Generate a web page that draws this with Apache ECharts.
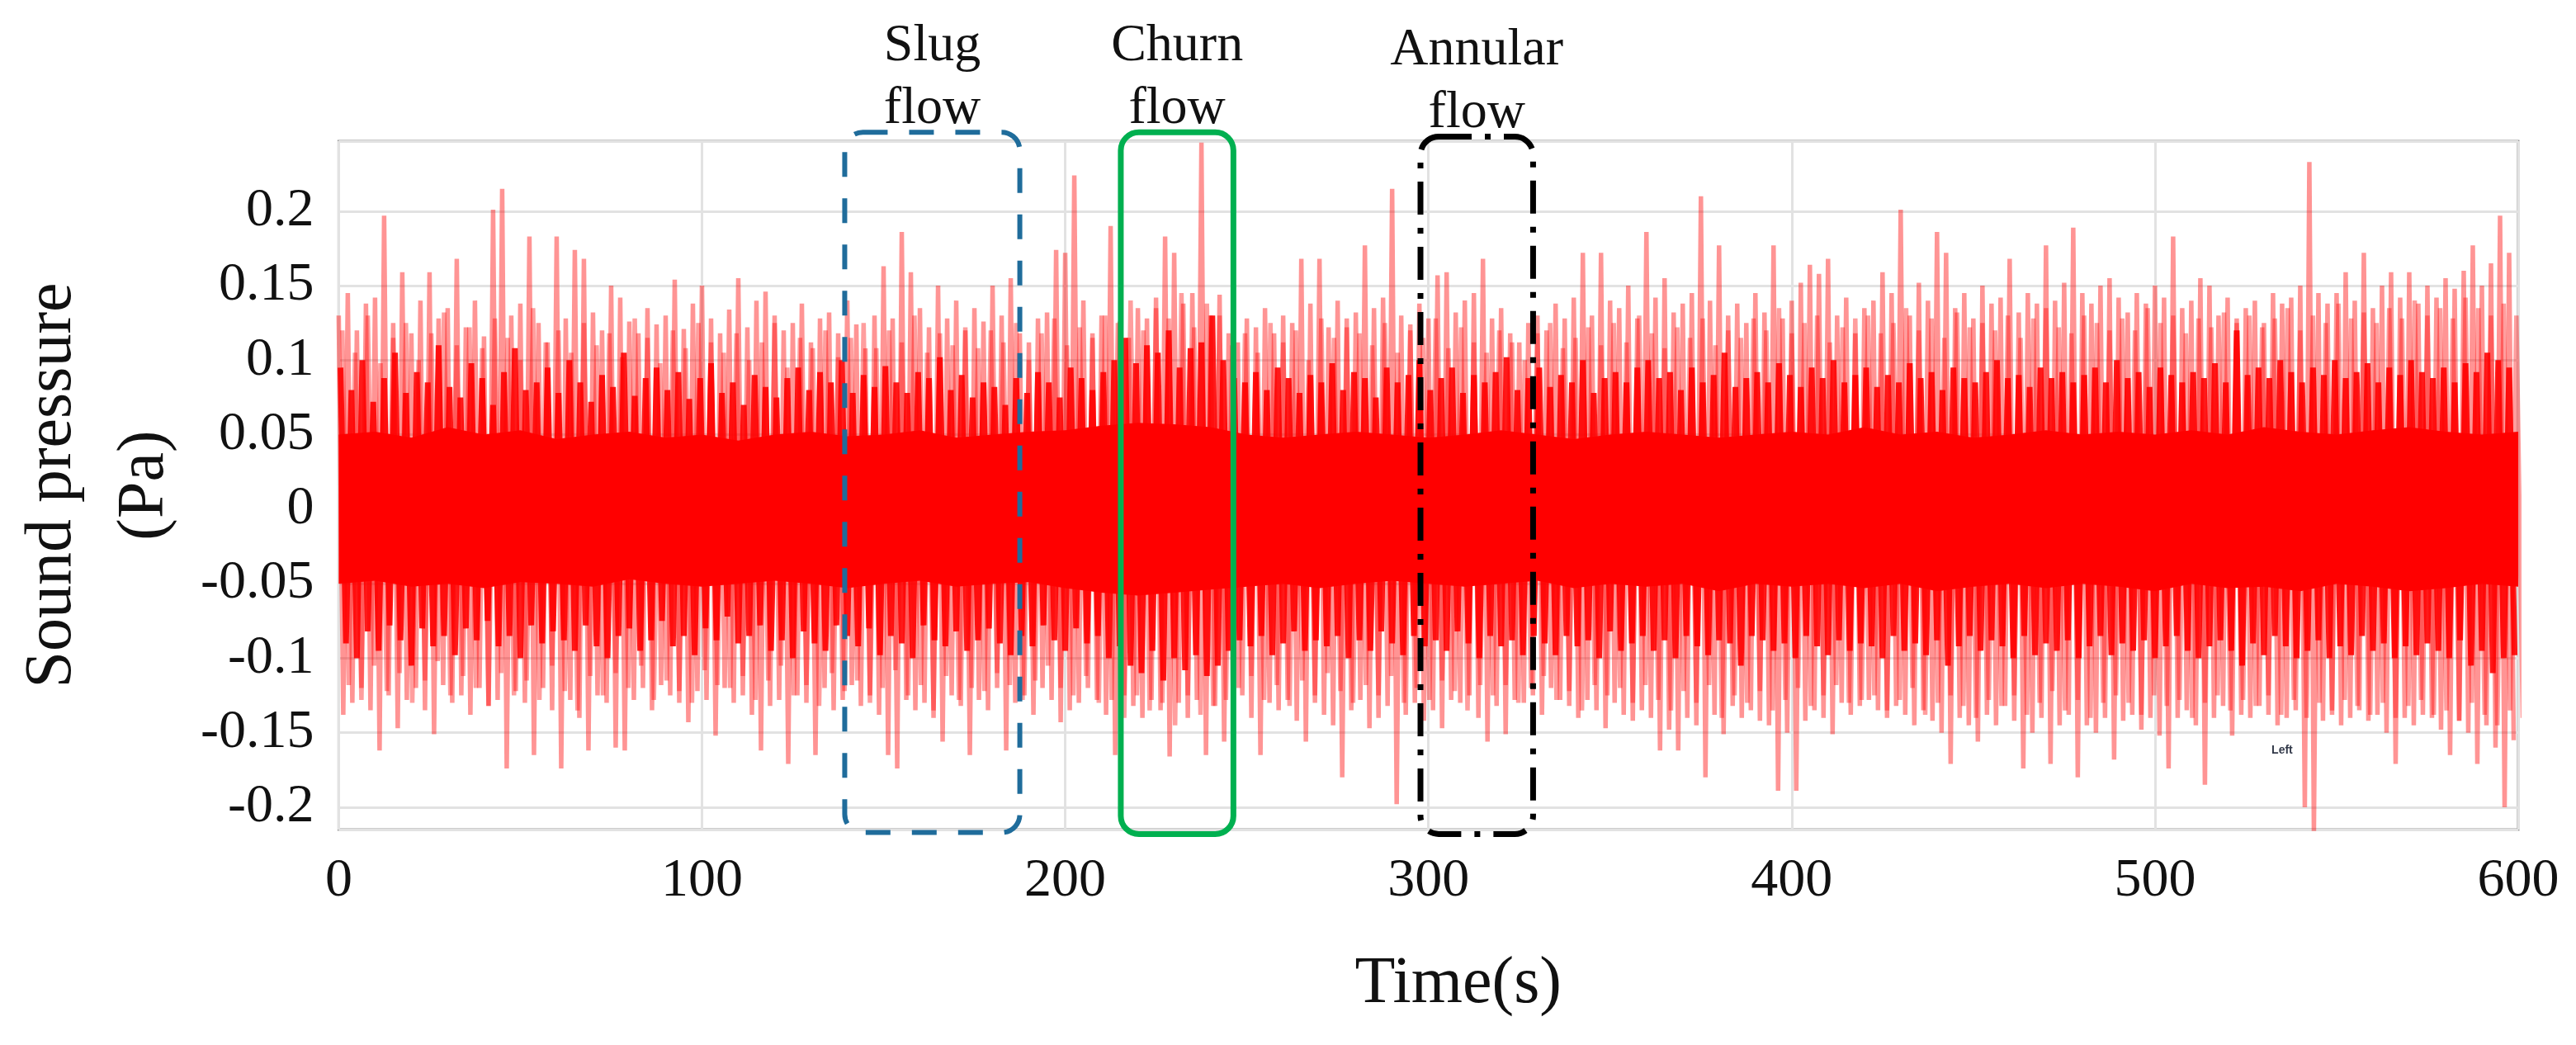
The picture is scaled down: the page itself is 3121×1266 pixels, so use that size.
<!DOCTYPE html>
<html>
<head>
<meta charset="utf-8">
<script src="https://cdn.jsdelivr.net/npm/echarts@6/dist/echarts.min.js"></script>
<style>
  html, body { margin: 0; padding: 0; background: #fff; }
  #main { width: 3121px; height: 1266px; }
</style>
</head>
<body>
<div id="main"></div>
<script>
// peak values, one pair per 2.5 s bin (up at t, down at t + 1.25)
var outerUp = [
  0.13, 0.145, 0.12, 0.138, 0.142, 0.197, 0.125, 0.159, 0.118, 0.14,
  0.159, 0.128, 0.135, 0.168, 0.122, 0.14, 0.116, 0.201, 0.215, 0.13,
  0.138, 0.183, 0.125, 0.112, 0.183, 0.128, 0.174, 0.168, 0.132, 0.12,
  0.15, 0.142, 0.126, 0.118, 0.135, 0.124, 0.13, 0.154, 0.121, 0.138,
  0.15, 0.128, 0.118, 0.134, 0.155, 0.122, 0.14, 0.146, 0.13, 0.12,
  0.125, 0.138, 0.112, 0.128, 0.132, 0.118, 0.14, 0.124, 0.108, 0.13,
  0.163, 0.128, 0.186, 0.159, 0.135, 0.122, 0.15, 0.128, 0.14, 0.12,
  0.135, 0.126, 0.15, 0.13, 0.155, 0.118, 0.112, 0.128, 0.132, 0.174,
  0.172, 0.224, 0.14, 0.118, 0.13, 0.19, 0.126, 0.115, 0.135, 0.128,
  0.142, 0.183, 0.172, 0.138, 0.145, 0.246, 0.13, 0.144, 0.118, 0.112,
  0.128, 0.122, 0.135, 0.118, 0.13, 0.125, 0.168, 0.138, 0.168, 0.122,
  0.14, 0.128, 0.132, 0.177, 0.135, 0.142, 0.215, 0.13, 0.124, 0.138,
  0.128, 0.157, 0.159, 0.132, 0.14, 0.145, 0.168, 0.128, 0.135, 0.118,
  0.112, 0.125, 0.13, 0.12, 0.138, 0.128, 0.142, 0.172, 0.13, 0.172,
  0.14, 0.135, 0.15, 0.128, 0.186, 0.142, 0.155, 0.132, 0.138, 0.145,
  0.21, 0.14, 0.177, 0.13, 0.138, 0.125, 0.145, 0.132, 0.177, 0.128,
  0.14, 0.152, 0.164, 0.158, 0.168, 0.13, 0.142, 0.118, 0.135, 0.14,
  0.159, 0.145, 0.201, 0.13, 0.152, 0.14, 0.186, 0.172, 0.135, 0.145,
  0.128, 0.15, 0.138, 0.142, 0.168, 0.132, 0.145, 0.138, 0.177, 0.14,
  0.152, 0.189, 0.145, 0.138, 0.15, 0.155, 0.142, 0.132, 0.145, 0.138,
  0.15, 0.142, 0.183, 0.135, 0.14, 0.155, 0.15, 0.13, 0.142, 0.128,
  0.135, 0.14, 0.125, 0.145, 0.138, 0.142, 0.15, 0.233, 0.145, 0.138,
  0.145, 0.159, 0.14, 0.172, 0.135, 0.15, 0.159, 0.142, 0.159, 0.138,
  0.15, 0.142, 0.155, 0.148, 0.16, 0.177, 0.15, 0.165, 0.197, 0.172
];
var outerDn = [
  -0.138, -0.13, -0.12, -0.135, -0.162, -0.125, -0.147, -0.128, -0.12, -0.135,
  -0.151, -0.118, -0.13, -0.125, -0.138, -0.12, -0.132, -0.128, -0.174, -0.122,
  -0.13, -0.165, -0.12, -0.135, -0.174, -0.128, -0.14, -0.162, -0.125, -0.13,
  -0.16, -0.162, -0.128, -0.12, -0.135, -0.118, -0.125, -0.13, -0.143, -0.122,
  -0.128, -0.152, -0.12, -0.13, -0.125, -0.138, -0.162, -0.132, -0.128, -0.171,
  -0.125, -0.13, -0.165, -0.12, -0.135, -0.128, -0.118, -0.132, -0.125, -0.138,
  -0.165, -0.174, -0.128, -0.135, -0.13, -0.14, -0.156, -0.125, -0.132, -0.165,
  -0.128, -0.135, -0.12, -0.162, -0.13, -0.125, -0.138, -0.12, -0.128, -0.143,
  -0.135, -0.13, -0.12, -0.128, -0.138, -0.165, -0.125, -0.132, -0.14, -0.128,
  -0.135, -0.166, -0.13, -0.14, -0.128, -0.165, -0.132, -0.156, -0.138, -0.125,
  -0.14, -0.165, -0.13, -0.135, -0.128, -0.142, -0.156, -0.13, -0.138, -0.145,
  -0.18, -0.135, -0.128, -0.147, -0.14, -0.132, -0.198, -0.138, -0.13, -0.142,
  -0.135, -0.147, -0.128, -0.13, -0.125, -0.14, -0.156, -0.132, -0.151, -0.128,
  -0.13, -0.125, -0.138, -0.12, -0.128, -0.132, -0.14, -0.128, -0.135, -0.147,
  -0.13, -0.138, -0.142, -0.135, -0.14, -0.162, -0.148, -0.162, -0.14, -0.145,
  -0.18, -0.138, -0.151, -0.132, -0.14, -0.135, -0.142, -0.145, -0.189, -0.15,
  -0.189, -0.142, -0.135, -0.14, -0.151, -0.13, -0.138, -0.132, -0.128, -0.135,
  -0.14, -0.132, -0.138, -0.145, -0.135, -0.142, -0.15, -0.171, -0.14, -0.145,
  -0.156, -0.138, -0.145, -0.132, -0.142, -0.174, -0.15, -0.14, -0.171, -0.145,
  -0.138, -0.18, -0.145, -0.15, -0.14, -0.168, -0.142, -0.138, -0.148, -0.14,
  -0.152, -0.174, -0.14, -0.135, -0.145, -0.185, -0.14, -0.132, -0.152, -0.138,
  -0.14, -0.132, -0.138, -0.145, -0.14, -0.135, -0.2, -0.216, -0.142, -0.138,
  -0.145, -0.14, -0.135, -0.142, -0.138, -0.15, -0.171, -0.14, -0.145, -0.138,
  -0.14, -0.148, -0.165, -0.142, -0.15, -0.171, -0.145, -0.16, -0.2, -0.155
];

// second set of light strokes, one pair per 3.5 s bin (starting at 1 s)
var outer2Up = [
  0.12, 0.105, 0.13, 0.098, 0.115, 0.125, 0.1, 0.118, 0.132, 0.11,
  0.122, 0.108, 0.128, 0.115, 0.1, 0.135, 0.112, 0.12, 0.105, 0.125,
  0.11, 0.118, 0.102, 0.128, 0.115, 0.098, 0.12, 0.108, 0.125, 0.112,
  0.105, 0.118, 0.1, 0.112, 0.125, 0.095, 0.115, 0.108, 0.12, 0.102,
  0.115, 0.125, 0.108, 0.12, 0.112, 0.13, 0.105, 0.118, 0.11, 0.122,
  0.108, 0.12, 0.112, 0.125, 0.1, 0.118, 0.128, 0.11, 0.122, 0.115,
  0.13, 0.125, 0.14, 0.12, 0.135, 0.128, 0.145, 0.122, 0.138, 0.13,
  0.11, 0.118, 0.105, 0.125, 0.112, 0.12, 0.1, 0.128, 0.115, 0.122,
  0.118, 0.11, 0.125, 0.105, 0.12, 0.115, 0.128, 0.108, 0.122, 0.112,
  0.105, 0.12, 0.112, 0.1, 0.118, 0.125, 0.108, 0.115, 0.122, 0.11,
  0.125, 0.112, 0.13, 0.118, 0.108, 0.122, 0.115, 0.128, 0.11, 0.12,
  0.115, 0.128, 0.12, 0.135, 0.118, 0.125, 0.13, 0.112, 0.122, 0.128,
  0.13, 0.118, 0.125, 0.135, 0.12, 0.128, 0.115, 0.132, 0.122, 0.125,
  0.12, 0.13, 0.115, 0.128, 0.135, 0.122, 0.118, 0.13, 0.125, 0.12,
  0.128, 0.12, 0.135, 0.125, 0.13, 0.118, 0.128, 0.122, 0.132, 0.125,
  0.13, 0.122, 0.128, 0.135, 0.12, 0.13, 0.125, 0.138, 0.128, 0.132,
  0.125, 0.135, 0.128, 0.14, 0.13, 0.135, 0.128, 0.142, 0.135, 0.13, 0.138, 0.13
];
var outer2Dn = [
  -0.118, -0.128, -0.105, -0.122, -0.11, -0.13, -0.115, -0.102, -0.125, -0.112,
  -0.12, -0.132, -0.11, -0.125, -0.115, -0.128, -0.105, -0.122, -0.135, -0.112,
  -0.125, -0.11, -0.12, -0.105, -0.128, -0.115, -0.122, -0.13, -0.108, -0.118,
  -0.12, -0.112, -0.128, -0.115, -0.105, -0.125, -0.118, -0.132, -0.11, -0.122,
  -0.115, -0.13, -0.12, -0.108, -0.125, -0.118, -0.135, -0.112, -0.128, -0.12,
  -0.122, -0.11, -0.118, -0.128, -0.115, -0.105, -0.12, -0.125, -0.112, -0.13,
  -0.128, -0.14, -0.125, -0.135, -0.13, -0.145, -0.125, -0.138, -0.132, -0.128,
  -0.12, -0.112, -0.128, -0.118, -0.132, -0.115, -0.125, -0.11, -0.122, -0.13,
  -0.118, -0.125, -0.112, -0.13, -0.12, -0.128, -0.115, -0.122, -0.135, -0.118,
  -0.125, -0.118, -0.13, -0.12, -0.112, -0.128, -0.122, -0.135, -0.118, -0.125,
  -0.12, -0.13, -0.118, -0.128, -0.135, -0.122, -0.13, -0.118, -0.14, -0.125,
  -0.13, -0.122, -0.135, -0.128, -0.12, -0.132, -0.125, -0.118, -0.13, -0.128,
  -0.125, -0.135, -0.128, -0.12, -0.138, -0.13, -0.125, -0.132, -0.14, -0.128,
  -0.132, -0.125, -0.138, -0.13, -0.122, -0.135, -0.128, -0.14, -0.13, -0.125,
  -0.13, -0.138, -0.125, -0.132, -0.128, -0.14, -0.13, -0.125, -0.135, -0.128,
  -0.132, -0.125, -0.138, -0.128, -0.14, -0.13, -0.135, -0.128, -0.132, -0.138,
  -0.13, -0.14, -0.132, -0.128, -0.138, -0.135, -0.142, -0.13, -0.138, -0.145, -0.135, -0.14
];

// darker middle strokes, one pair per 3 s bin
var midUp = [
  0.095, 0.08, 0.1, 0.072, 0.088, 0.105, 0.078, 0.092, 0.085, 0.11,
  0.082, 0.075, 0.098, 0.088, 0.07, 0.092, 0.108, 0.08, 0.085, 0.095,
  0.078, 0.1, 0.085, 0.072, 0.09, 0.082, 0.105, 0.076, 0.088, 0.095,
  0.08, 0.092, 0.074, 0.088, 0.098, 0.078, 0.085, 0.07, 0.09, 0.082,
  0.075, 0.088, 0.095, 0.08, 0.092, 0.085, 0.1, 0.078, 0.09, 0.082,
  0.096, 0.085, 0.078, 0.092, 0.088, 0.102, 0.08, 0.09, 0.075, 0.085,
  0.082, 0.07, 0.088, 0.078, 0.092, 0.085, 0.075, 0.095, 0.088, 0.08,
  0.092, 0.1, 0.115, 0.098, 0.11, 0.105, 0.12, 0.095, 0.108, 0.112,
  0.13, 0.1, 0.088, 0.085, 0.092, 0.08, 0.095, 0.088, 0.078, 0.09,
  0.085, 0.098, 0.08, 0.092, 0.088, 0.075, 0.095, 0.085, 0.09, 0.1,
  0.08, 0.088, 0.095, 0.078, 0.09, 0.085, 0.092, 0.102, 0.08, 0.088,
  0.095, 0.082, 0.09, 0.085, 0.1, 0.078, 0.088, 0.092, 0.085, 0.095,
  0.1, 0.088, 0.092, 0.08, 0.095, 0.085, 0.09, 0.105, 0.082, 0.088,
  0.092, 0.085, 0.098, 0.09, 0.082, 0.095, 0.088, 0.1, 0.085, 0.09,
  0.095, 0.082, 0.09, 0.085, 0.098, 0.088, 0.092, 0.08, 0.095, 0.088,
  0.085, 0.092, 0.1, 0.088, 0.09, 0.082, 0.095, 0.088, 0.092, 0.085,
  0.09, 0.095, 0.085, 0.1, 0.088, 0.092, 0.082, 0.095, 0.09, 0.085,
  0.092, 0.088, 0.098, 0.085, 0.12, 0.09, 0.095, 0.088, 0.1, 0.092,
  0.085, 0.095, 0.09, 0.1, 0.088, 0.092, 0.098, 0.085, 0.095, 0.09,
  0.1, 0.092, 0.088, 0.095, 0.085, 0.098, 0.092, 0.105, 0.1, 0.095
];
var midDn = [
  -0.09, -0.1, -0.082, -0.095, -0.078, -0.088, -0.105, -0.08, -0.092, -0.085,
  -0.098, -0.08, -0.088, -0.075, -0.092, -0.085, -0.1, -0.078, -0.09, -0.082,
  -0.088, -0.095, -0.078, -0.092, -0.1, -0.085, -0.08, -0.095, -0.088, -0.075,
  -0.092, -0.085, -0.098, -0.08, -0.088, -0.072, -0.09, -0.085, -0.078, -0.095,
  -0.088, -0.1, -0.082, -0.09, -0.095, -0.078, -0.085, -0.092, -0.08, -0.098,
  -0.085, -0.09, -0.1, -0.078, -0.088, -0.092, -0.082, -0.095, -0.088, -0.08,
  -0.09, -0.098, -0.085, -0.092, -0.078, -0.088, -0.095, -0.08, -0.09, -0.085,
  -0.1, -0.092, -0.105, -0.11, -0.095, -0.115, -0.1, -0.108, -0.098, -0.112,
  -0.105, -0.095, -0.088, -0.092, -0.085, -0.098, -0.09, -0.082, -0.095, -0.088,
  -0.092, -0.085, -0.1, -0.088, -0.095, -0.082, -0.09, -0.098, -0.085, -0.092,
  -0.088, -0.095, -0.082, -0.09, -0.1, -0.085, -0.092, -0.088, -0.098, -0.085,
  -0.09, -0.098, -0.085, -0.092, -0.088, -0.1, -0.082, -0.095, -0.09, -0.085,
  -0.095, -0.088, -0.1, -0.085, -0.092, -0.098, -0.088, -0.09, -0.105, -0.085,
  -0.088, -0.095, -0.09, -0.1, -0.085, -0.092, -0.098, -0.088, -0.095, -0.09,
  -0.092, -0.1, -0.085, -0.095, -0.09, -0.098, -0.088, -0.105, -0.092, -0.085,
  -0.095, -0.088, -0.092, -0.1, -0.085, -0.098, -0.09, -0.095, -0.088, -0.1,
  -0.092, -0.085, -0.098, -0.09, -0.095, -0.088, -0.1, -0.092, -0.085, -0.095,
  -0.1, -0.092, -0.088, -0.095, -0.105, -0.09, -0.098, -0.085, -0.092, -0.1,
  -0.095, -0.088, -0.1, -0.092, -0.098, -0.085, -0.095, -0.09, -0.1, -0.092,
  -0.098, -0.09, -0.095, -0.1, -0.088, -0.105, -0.095, -0.11, -0.1, -0.098
];

// solid core of the trace, every 10 s
var coreHi = [
  0.05, 0.052, 0.048, 0.055, 0.05, 0.053, 0.047, 0.05, 0.052, 0.048,
  0.05, 0.046, 0.05, 0.052, 0.049, 0.05, 0.053, 0.048, 0.05, 0.052,
  0.053, 0.056, 0.058, 0.057, 0.055, 0.05, 0.048, 0.05, 0.052, 0.05,
  0.048, 0.05, 0.053, 0.05, 0.047, 0.05, 0.052, 0.05, 0.048, 0.05,
  0.052, 0.05, 0.055, 0.05, 0.052, 0.048, 0.05, 0.053, 0.05, 0.052,
  0.05, 0.053, 0.05, 0.055, 0.052, 0.05, 0.053, 0.055, 0.052, 0.05, 0.052
];
var coreLo = [
  -0.05, -0.048, -0.052, -0.05, -0.053, -0.049, -0.05, -0.052, -0.047, -0.05,
  -0.052, -0.05, -0.048, -0.05, -0.053, -0.05, -0.048, -0.052, -0.05, -0.049,
  -0.053, -0.056, -0.058, -0.056, -0.054, -0.052, -0.05, -0.053, -0.05, -0.048,
  -0.05, -0.052, -0.05, -0.048, -0.053, -0.05, -0.052, -0.05, -0.055, -0.05,
  -0.052, -0.05, -0.053, -0.05, -0.055, -0.052, -0.05, -0.053, -0.05, -0.052,
  -0.055, -0.05, -0.053, -0.052, -0.055, -0.05, -0.052, -0.055, -0.053, -0.05, -0.052
];

var xTicks = [0, 100, 200, 300, 400, 500, 600];

// flow regime boxes (time in s, pressure in Pa)
var boxNames = ['Slug\nflow', 'Churn\nflow', 'Annular\nflow'];
var boxStart = [139.3, 215.3, 297.8];
var boxEnd = [187.5, 246.3, 328.8];
var boxTop = [0.253, 0.253, 0.25];
var boxBottom = [-0.217, -0.218, -0.218];

var serif = '"Liberation Serif", "Times New Roman", serif';

function zigzag(up, dn, step, offset) {
  var out = [];
  for (var i = 0; i < up.length; i++) {
    out.push([offset + i * step, up[i]]);
    out.push([offset + i * step + step / 2, dn[i]]);
  }
  return out;
}

function band(vals) {
  var out = [];
  for (var i = 0; i < vals.length; i++) out.push([i * 10, vals[i]]);
  return out;
}

function strokes(data, color, width, z) {
  return {
    type: 'line', data: data, showSymbol: false, silent: true, sampling: null,
    lineStyle: { color: color, width: width, join: 'bevel' }, z: z
  };
}

var myChart = echarts.init(document.getElementById('main'));

var option = {
  animation: false,
  backgroundColor: '#fff',
  grid: {
    left: 398, right: 70, top: 171, bottom: 261,
    show: true, borderColor: '#9a9a9a', borderWidth: 3, backgroundColor: 'transparent'
  },
  xAxis: {
    type: 'value', min: 0, max: 600, interval: 100,
    name: 'Time(s)', nameLocation: 'middle', nameGap: 148,
    nameTextStyle: { fontFamily: serif, fontSize: 80, color: '#111', padding: [0, 0, 0, 72] },
    axisLine: { show: false }, axisTick: { show: false },
    axisLabel: { fontFamily: serif, fontSize: 66, color: '#111', margin: 30 },
    splitLine: { show: true, lineStyle: { color: '#e2e2e2', width: 3 } }
  },
  yAxis: {
    type: 'value', min: -0.215, max: 0.247, splitNumber: 9,
    name: 'Sound pressure\n(Pa)', nameLocation: 'middle', nameRotate: 90, nameGap: 163,
    nameTextStyle: { fontFamily: serif, fontSize: 80, lineHeight: 112, color: '#111' },
    axisLine: { show: false }, axisTick: { show: false },
    axisLabel: { fontFamily: serif, fontSize: 66, color: '#111', margin: 30, showMinLabel: false, showMaxLabel: false },
    splitLine: { show: true, lineStyle: { color: '#e2e2e2', width: 3 } }
  },
  series: [
    {
      type: 'line', data: band(coreHi), showSymbol: false, silent: true,
      lineStyle: { width: 0 }, areaStyle: { color: '#ff0000', opacity: 1 }, z: 2
    },
    {
      type: 'line', data: band(coreLo), showSymbol: false, silent: true,
      lineStyle: { width: 0 }, areaStyle: { color: '#ff0000', opacity: 1 }, z: 2
    },
    strokes(zigzag(midUp, midDn, 3, 0.5), 'rgba(255,0,0,0.9)', 7, 3),
    strokes(zigzag(outer2Up, outer2Dn, 3.5, 1), 'rgba(255,0,0,0.38)', 5.5, 4),
    strokes(zigzag(outerUp, outerDn, 2.5, 0), 'rgba(255,0,0,0.42)', 5.5, 5)
  ]
};
myChart.setOption(option);

// annotation boxes placed through the chart's own axes
var boxStyles = [
  { stroke: '#1f6c9b', lineWidth: 6, lineDash: [30, 26] },
  { stroke: '#00b050', lineWidth: 7, lineDash: null },
  { stroke: '#000000', lineWidth: 7, lineDash: [40, 16, 7, 16] }
];
var graphics = [];
for (var i = 0; i < boxNames.length; i++) {
  var p0 = myChart.convertToPixel({ gridIndex: 0 }, [boxStart[i], boxTop[i]]);
  var p1 = myChart.convertToPixel({ gridIndex: 0 }, [boxEnd[i], boxBottom[i]]);
  graphics.push({
    type: 'rect', z: 100, silent: true,
    shape: { x: p0[0], y: p0[1], width: p1[0] - p0[0], height: p1[1] - p0[1], r: 22 },
    style: { fill: null, stroke: boxStyles[i].stroke, lineWidth: boxStyles[i].lineWidth, lineDash: boxStyles[i].lineDash }
  });
  graphics.push({
    type: 'text', z: 100, silent: true,
    x: (p0[0] + p1[0]) / 2, y: p0[1] - 66,
    style: {
      text: boxNames[i], font: '64px ' + serif, fill: '#111',
      textAlign: 'center', textVerticalAlign: 'middle', lineHeight: 76
    }
  });
}
var pLeft = myChart.convertToPixel({ gridIndex: 0 }, [535, -0.162]);
graphics.push({
  type: 'text', z: 100, silent: true, x: pLeft[0], y: pLeft[1],
  style: { text: 'Left', font: 'bold 14px Arial, sans-serif', fill: '#333a4a', textAlign: 'center', textVerticalAlign: 'middle' }
});
myChart.setOption({ graphic: graphics });
</script>
</body>
</html>
